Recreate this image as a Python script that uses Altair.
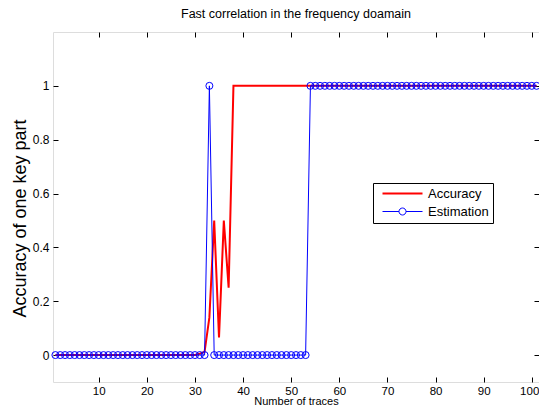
import altair as alt
import pandas as pd

# ---- data ----
traces = list(range(1, 102))
accuracy = [0.0] * 30 + [0.005, 0.012, 0.14, 0.5, 0.065, 0.5, 0.25] + [1.0] * 64
estimation = [0.0] * 32 + [1.0] + [0.0] * 20 + [1.0] * 48
series_names = ["Accuracy", "Estimation"]
x_ticks = [10, 20, 30, 40, 50, 60, 70, 80, 90, 100]
y_ticks = [0, 0.2, 0.4, 0.6, 0.8, 1]

acc_df = pd.DataFrame({"x": traces, "y": accuracy, "series": "Accuracy"})
est_df = pd.DataFrame({"x": traces, "y": estimation, "series": "Estimation"})
all_df = pd.concat([acc_df, est_df], ignore_index=True)

W, H = 486, 350
FONT = "Liberation Sans"

xs = alt.Scale(domain=[0.5, 101.5], nice=False, zero=False)
ys = alt.Scale(domain=[-0.1, 1.2], nice=False, zero=False)


def ax(orient, offset, values):
    return alt.Axis(orient=orient, grid=False, domain=False, labels=False,
                    tickSize=5, tickColor="black", tickWidth=1, offset=offset,
                    values=values, title=None)


red_line = alt.Chart(acc_df).mark_line(color="#ff0000", strokeWidth=2).encode(
    x=alt.X("x:Q", scale=xs, axis=alt.Axis(
        orient="bottom", grid=False, domain=False, tickSize=0, values=x_ticks,
        labelFont=FONT, labelFontSize=11.5, labelColor="black", labelPadding=3,
        labelFlush=8, labelFlushOffset=7,
        title="Number of traces", titleFont=FONT, titleFontSize=11,
        titleFontWeight="normal", titleColor="black",
        titleBaseline="alphabetic", titleY=22.5)),
    y=alt.Y("y:Q", scale=ys, axis=alt.Axis(
        orient="left", grid=False, domain=False, tickSize=0, values=y_ticks,
        format="~g", labelFont=FONT, labelFontSize=12, labelColor="black",
        labelPadding=4, title="Accuracy of one key part", titleFont=FONT,
        titleFontSize=18, titleFontWeight="normal", titleColor="black",
        titlePadding=3, titleY=186)),
)

blue_line = alt.Chart(est_df).mark_line(color="#0000ff", strokeWidth=1).encode(
    x=alt.X("x:Q", scale=xs, axis=ax("top", -H, x_ticks)),
    y=alt.Y("y:Q", scale=ys, axis=ax("right", -W, y_ticks)),
)

blue_pts = alt.Chart(est_df).mark_point(
    color="#0000ff", filled=False, size=49, strokeWidth=1, opacity=1
).encode(
    x=alt.X("x:Q", scale=xs, axis=ax("bottom", -H, x_ticks)),
    y=alt.Y("y:Q", scale=ys, axis=ax("left", -W, y_ticks)),
)

# legend symbols: unit = 5px (symbolSize 100)
acc_path = "M-0.2,0L7.8,0"
est_path = ("M-0.2,0L3.1,0M4.5,0A0.7,0.7,0,1,1,3.1,0A0.7,0.7,0,1,1,4.5,0"
            "M4.5,0L7.8,0")

leg = alt.Legend(
    title=None, orient="none", legendX=320, legendY=151,
    strokeColor="black", fillColor="white", padding=4,
    labelFont=FONT, labelFontSize=13, labelColor="black",
    symbolSize=100, labelOffset=38, rowPadding=4, symbolOpacity=1,
)

legend_layer = alt.Chart(all_df).transform_calculate(
    xo="datum.x + 1000"
).mark_point(filled=False, clip=True, opacity=1).encode(
    x=alt.X("xo:Q", scale=xs, axis=None),
    y=alt.Y("y:Q", scale=ys, axis=None),
    color=alt.Color("series:N", scale=alt.Scale(domain=series_names, range=["#ff0000", "#0000ff"]), legend=leg),
    shape=alt.Shape("series:N", scale=alt.Scale(domain=series_names, range=[acc_path, est_path]), legend=leg),
    strokeWidth=alt.StrokeWidth("series:N", scale=alt.Scale(domain=series_names, range=[2, 1]), legend=leg),
)

chart = alt.layer(red_line, blue_line, blue_pts, legend_layer).resolve_scale(
    x="independent", y="independent"
).properties(
    width=W, height=H,
    title=alt.TitleParams("Fast correlation in the frequency doamain", font=FONT,
                          fontSize=12.5, fontWeight="normal", color="black", offset=11.5),
    autosize=alt.AutoSizeParams(type="none"),
    padding={"left": 45, "top": 24, "right": 0, "bottom": 25},
).configure_view(stroke="black", strokeWidth=1.2).configure(background="white")

chart.save("out.html", embed_options={"renderer": "svg", "actions": False})
